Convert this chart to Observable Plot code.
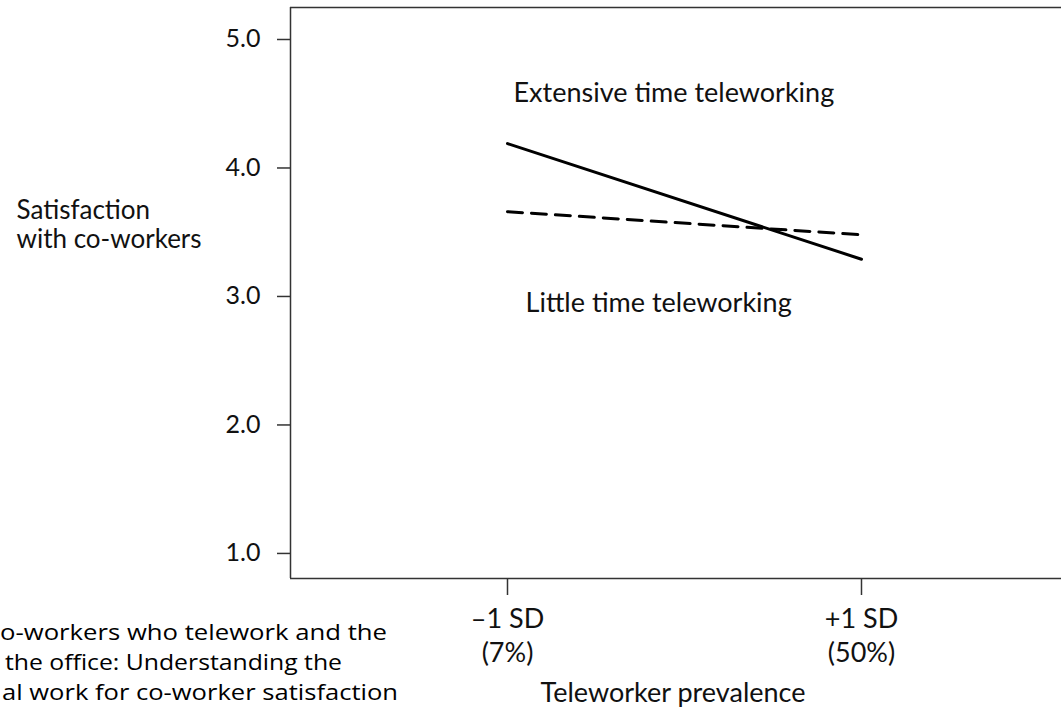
<!DOCTYPE html>
<html><head><meta charset="utf-8">
<script src="https://cdn.jsdelivr.net/npm/d3@7"></script>
<script src="https://cdn.jsdelivr.net/npm/@observablehq/plot@0.6"></script>
<style>
html,body{margin:0;padding:0;background:#fff;}
#chart{position:relative;width:1061px;height:715px;overflow:hidden;}
</style></head><body><div id="chart"></div>
<script>
// ---- data ----
const levels = [-1, 1];
const sdLabels = ["\u2013\u0031 SD", "+1 SD"];
const pctLabels = ["(7%)", "(50%)"];
const extensive = [4.19, 3.29];
const little = [3.66, 3.48];
const yTicks = [1, 2, 3, 4, 5];
const seriesNames = ["Extensive time teleworking", "Little time teleworking"];
const yLabel = ["Satisfaction", "with co-workers"];
const xLabel = "Teleworker prevalence";
const captionLines = ["o-workers who telework and the", "the office: Understanding the", "al work for co-worker satisfaction"];

// table built from the arrays
const rows = [];
levels.forEach((x, i) => {
  rows.push({series: seriesNames[0], x, y: extensive[i]});
  rows.push({series: seriesNames[1], x, y: little[i]});
});

const xDom = [-2.226, 2.13];
const yDom = [0.805, 5.249];
const FONT = "Lato, 'Open Sans', sans-serif";
const INK = "#111";
const FS = 27;

const chart = Plot.plot({
  width: 1061,
  height: 715,
  marginLeft: 290,
  marginRight: 0,
  marginTop: 7,
  marginBottom: 137,
  style: {fontFamily: FONT, color: INK, background: "#fff", overflow: "visible"},
  x: {domain: xDom},
  y: {domain: yDom},
  marks: [
    Plot.ruleX([xDom[0]], {stroke: "#333", strokeWidth: 1.5}),
    Plot.ruleY(yDom, {stroke: "#333", strokeWidth: 1.5}),
    Plot.axisY({ticks: yTicks, tickSize: 13, tickPadding: 17, tickFormat: d3.format(".1f"),
      fontSize: 25, label: null, strokeWidth: 1.5, stroke: "#333"}),
    Plot.axisX({ticks: levels, tickSize: 17, tickFormat: () => "", label: null, strokeWidth: 1.5, stroke: "#333"}),
    Plot.text(levels, {x: d => d, text: (d, i) => sdLabels[i], frameAnchor: "bottom", dy: 41, fontSize: FS, lineAnchor: "middle"}),
    Plot.text(levels, {x: d => d, text: (d, i) => pctLabels[i], frameAnchor: "bottom", dy: 75, fontSize: FS, lineAnchor: "middle"}),
    Plot.text([xLabel], {frameAnchor: "bottom", dx: -3, dy: 115, fontSize: FS, lineAnchor: "middle", text: d => d}),
    Plot.text([yLabel.join("\n")], {frameAnchor: "top-left", dx: -274, dy: 217, textAnchor: "start",
      fontSize: 26, lineHeight: 1.12, lineAnchor: "middle", text: d => d}),
    Plot.line(rows.filter(d => d.series === seriesNames[0]), {x: "x", y: "y", stroke: "#000", strokeWidth: 3}),
    Plot.line(rows.filter(d => d.series === seriesNames[1]), {x: "x", y: "y", stroke: "#000", strokeWidth: 3, strokeDasharray: "15,9"}),
    Plot.text([seriesNames[0]], {x: -0.966, y: 4.58, text: d => d, textAnchor: "start", fontSize: FS, lineAnchor: "middle"}),
    Plot.text([seriesNames[1]], {x: -0.898, y: 2.95, text: d => d, textAnchor: "start", fontSize: FS, lineAnchor: "middle"}),
    Plot.text(captionLines, {frameAnchor: "bottom-left", text: d => d, fill: "#000",
      fontFamily: "'Open Sans', sans-serif", fontSize: 22, textAnchor: "start", lineAnchor: "bottom"})
  ]
});
document.getElementById("chart").appendChild(chart);

// caption: place the three lines and fit them to the clipped widths
const capX = [0, 5, 2];
const capBase = [640, 670, 700];
const capW = [387, 337, 396];
d3.select(chart).selectAll("text").filter(function() { return captionLines.includes(this.textContent); })
  .each(function() {
    const i = captionLines.indexOf(this.textContent);
    const g = d3.select(this);
    g.attr("transform", null).attr("x", capX[i]).attr("y", capBase[i]).attr("dy", null)
     .attr("textLength", capW[i]).attr("lengthAdjust", "spacingAndGlyphs");
    const p = this.parentNode;
    if (p && p.getAttribute("transform")) p.removeAttribute("transform");
  });
</script></body></html>
